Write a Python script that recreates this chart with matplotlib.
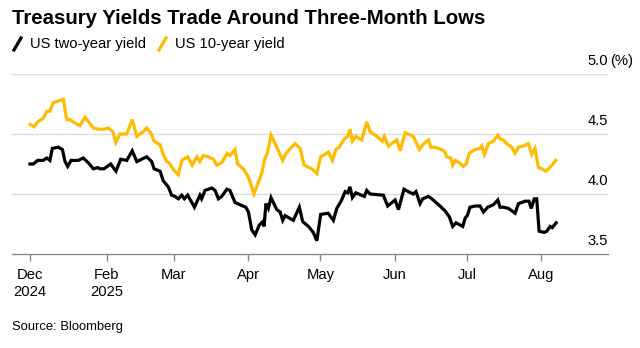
import matplotlib
matplotlib.use("Agg")
import matplotlib.pyplot as plt
from matplotlib.lines import Line2D
from matplotlib import font_manager
import pandas as pd

# Police étroite proche du style Bloomberg
noms = {f.name for f in font_manager.fontManager.ttflist}
FAMILLE = ["Liberation Sans Narrow", "Liberation Sans", "DejaVu Sans"]
FAMILLE = [f for f in FAMILLE if f in noms] or ["DejaVu Sans"]
plt.rcParams["font.family"] = FAMILLE

# Données : jours depuis le 31/12/2024, rendement en %
START = pd.Timestamp("2024-12-31")

ten_year_days = [0, 1.8, 3.2, 5.5, 7.0, 8.3, 9.7, 13.9, 15.3, 16.7, 18.0, 20.8, 22.9, 26.4, 28.5,
                 30.8, 32.6, 34.5, 35.8, 37.5, 40.3, 42.6, 44.5, 47.2, 48.6, 50.3, 51.7, 54.2, 55.5,
                 57.0, 58.0, 59.5, 61.8, 63.2, 65.7, 67.6, 69.5, 70.8, 72.2, 74.3, 76.4, 77.8, 79.9,
                 82.2, 83.3, 85.4, 86.5, 88.9, 91.0, 93.3, 96.5, 97.9, 98.9, 100.4, 102.8, 105.3,
                 106.7, 110.4, 112.5, 114.2, 117.4, 119.5, 121.1, 122.9, 124.3, 126.0, 127.4, 128.8,
                 131.0, 132.4, 133.3, 134.3, 135.7, 138.2, 140.3, 141.7, 144.5, 146.8, 147.6, 149.3,
                 152.8, 154.2, 156.3, 157.6, 159.7, 162.2, 163.6, 166.0, 167.0, 168.8, 171.5, 172.9,
                 173.6, 175.3, 176.1, 177.1, 178.9, 180.5, 181.7, 183.0, 185.4, 187.5, 188.2, 189.3,
                 191.0, 193.0, 194.9, 195.8, 197.2, 198.6, 200.7, 202.1, 203.5, 205.5, 207.6, 209.0,
                 210.4, 211.8, 213.2, 214.9, 217.1, 219.0]
ten_year_vals = [4.58, 4.56, 4.60, 4.63, 4.69, 4.69, 4.76, 4.79, 4.62, 4.62, 4.60, 4.57, 4.64, 4.55, 4.54,
                 4.54, 4.55, 4.52, 4.43, 4.50, 4.50, 4.62, 4.48, 4.52, 4.55, 4.51, 4.44, 4.41, 4.33,
                 4.27, 4.26, 4.21, 4.16, 4.28, 4.31, 4.24, 4.31, 4.27, 4.32, 4.31, 4.29, 4.24, 4.26,
                 4.34, 4.32, 4.37, 4.25, 4.21, 4.14, 4.00, 4.17, 4.30, 4.34, 4.49, 4.39, 4.28,
                 4.34, 4.42, 4.38, 4.24, 4.21, 4.17, 4.31, 4.33, 4.35, 4.28, 4.37, 4.39,
                 4.46, 4.48, 4.54, 4.44, 4.48, 4.45, 4.60, 4.52, 4.48, 4.44, 4.48, 4.40,
                 4.45, 4.36, 4.51, 4.50, 4.48, 4.37, 4.41, 4.45, 4.39, 4.39, 4.37, 4.35,
                 4.31, 4.30, 4.24, 4.28, 4.26, 4.23, 4.25, 4.34, 4.37, 4.38, 4.40, 4.33,
                 4.42, 4.44, 4.49, 4.46, 4.45, 4.42, 4.39, 4.34, 4.39, 4.40, 4.42, 4.33,
                 4.38, 4.22, 4.21, 4.19, 4.23, 4.28]

two_year_days = [0, 1.4, 3.2, 5.5, 7.0, 8.3, 9.3, 11.8, 13.5, 14.6, 15.7, 17.1, 20.1, 22.2, 24.3,
                 26.4, 28.2, 29.2, 30.8, 33.6, 35.8, 37.8, 40.3, 42.6, 44.5, 46.5, 48.6, 50.7, 51.7,
                 54.2, 55.5, 57.6, 59.0, 60.4, 61.8, 63.2, 64.3, 65.7, 68.5, 70.8, 71.5, 72.9, 75.7,
                 77.1, 78.5, 79.9, 82.0, 83.3, 85.4, 87.5, 89.9, 91.0, 92.4, 93.8, 95.5, 97.0, 97.5,
                 98.3, 99.3, 100.4, 102.8, 104.2, 105.3, 106.3, 109.7, 112.2, 113.6, 116.0, 118.0,
                 119.5, 121.1, 124.2, 126.4, 127.8, 129.6, 131.3, 132.4, 133.3, 134.3, 135.7, 139.3,
                 140.3, 141.7, 147.2, 149.0, 152.1, 153.5, 155.8, 157.6, 159.7, 160.8, 162.5, 163.6,
                 166.0, 167.4, 170.8, 172.9, 174.7, 176.1, 177.5, 180.3, 181.3, 182.2, 183.3, 185.4,
                 187.5, 188.9, 190.7, 193.0, 194.9, 195.8, 197.2, 199.3, 202.1, 203.5, 206.3, 207.9,
                 208.8, 210.1, 211.1, 212.1, 214.3, 215.3, 216.7, 217.6, 219.2]
two_year_vals = [4.25, 4.25, 4.28, 4.28, 4.30, 4.28, 4.38, 4.39, 4.37, 4.27, 4.23, 4.28, 4.28, 4.30, 4.26,
                 4.21, 4.22, 4.21, 4.21, 4.25, 4.19, 4.29, 4.28, 4.36, 4.27, 4.29, 4.31, 4.27, 4.21,
                 4.19, 4.11, 4.06, 3.99, 3.98, 3.96, 3.99, 3.96, 3.99, 3.89, 3.99, 3.96, 4.03, 4.05,
                 4.03, 3.96, 3.98, 4.04, 4.03, 3.93, 3.91, 3.89, 3.85, 3.70, 3.66, 3.74, 3.77, 3.73,
                 3.92, 3.88, 3.97, 3.87, 3.85, 3.78, 3.82, 3.78, 3.89, 3.77, 3.73, 3.68,
                 3.61, 3.83, 3.84, 3.78, 3.88, 3.94, 4.02, 4.01, 4.06, 3.97, 4.01, 3.98,
                 4.03, 4.00, 3.99, 3.90, 3.95, 3.87, 4.04, 4.02, 4.00, 4.02, 3.92, 3.96,
                 3.98, 3.96, 3.90, 3.86, 3.81, 3.73, 3.76, 3.73, 3.80, 3.82, 3.89, 3.90,
                 3.90, 3.85, 3.89, 3.91, 3.95, 3.89, 3.89, 3.88, 3.84, 3.92, 3.94, 3.94,
                 3.88, 3.96, 3.96, 3.69, 3.68, 3.69, 3.73, 3.72, 3.76]

tick_dates = ["2024-12-31", "2025-02-01", "2025-03-01", "2025-04-01", "2025-05-01",
              "2025-06-01", "2025-07-01", "2025-08-01"]
tick_labels = ["Dec\n2024", "Feb\n2025", "Mar", "Apr", "May", "Jun", "Jul", "Aug"]
y_ticks = [3.5, 4.0, 4.5, 5.0]

YELLOW = "#ffbb00"

# Figure
fig = plt.figure(figsize=(6.4, 3.48), dpi=100)
ax = fig.add_axes([12 / 640, 94 / 348, 596 / 640, 180 / 348])

ax.plot(ten_year_days, ten_year_vals, color=YELLOW, lw=2.3, solid_joinstyle="miter", zorder=3)
ax.plot(two_year_days, two_year_vals, color="black", lw=2.3, solid_joinstyle="miter", zorder=4)

ax.set_xlim(-7.5, 240.8)
ax.set_ylim(3.5, 5.0)

for s in ["top", "left", "right"]:
    ax.spines[s].set_visible(False)
ax.spines["bottom"].set_color("#8a8a8a")
ax.spines["bottom"].set_linewidth(1.0)

ticks_x = [(pd.Timestamp(d) - START).days for d in tick_dates]
ax.set_xticks(ticks_x)
ax.set_xticklabels(tick_labels, fontsize=10.6, linespacing=1.25)
ax.tick_params(axis="x", length=5, width=1, color="#8a8a8a", pad=5)

# Grille horizontale + étiquettes à droite, au-dessus des lignes
ax.set_yticks([])
for v in y_ticks[1:]:
    ax.axhline(v, color="#dcdcdc", lw=1, zorder=1)
ytr = ax.get_yaxis_transform()
for v in y_ticks:
    ax.annotate(f"{v:.1f}", xy=(1.0, v), xycoords=ytr, xytext=(0, 4.5), textcoords="offset points",
                ha="right", va="bottom", fontsize=10.6)
ax.annotate("(%)", xy=(1.0, y_ticks[-1]), xycoords=ytr, xytext=(1.5, 4.5), textcoords="offset points",
            ha="left", va="bottom", fontsize=10.6)

# Titre, légende, source
fig.text(12 / 640, 1 - 18 / 348, "Treasury Yields Trade Around Three-Month Lows",
         fontsize=14.7, fontweight="bold", ha="left", va="center")

def item_legende(x, couleur, texte):
    fig.add_artist(Line2D([(x + 1) / 640, (x + 8) / 640], [1 - 50 / 348, 1 - 38 / 348],
                          color=couleur, lw=2.3, transform=fig.transFigure))
    fig.text((x + 17) / 640, 1 - 44 / 348, texte, fontsize=10.6, ha="left", va="center")

item_legende(13, "black", "US two-year yield")
item_legende(158, YELLOW, "US 10-year yield")

fig.text(12 / 640, 1 - 327 / 348, "Source: Bloomberg", fontsize=9.4, ha="left", va="center")

fig.savefig("out.png", dpi=100)
